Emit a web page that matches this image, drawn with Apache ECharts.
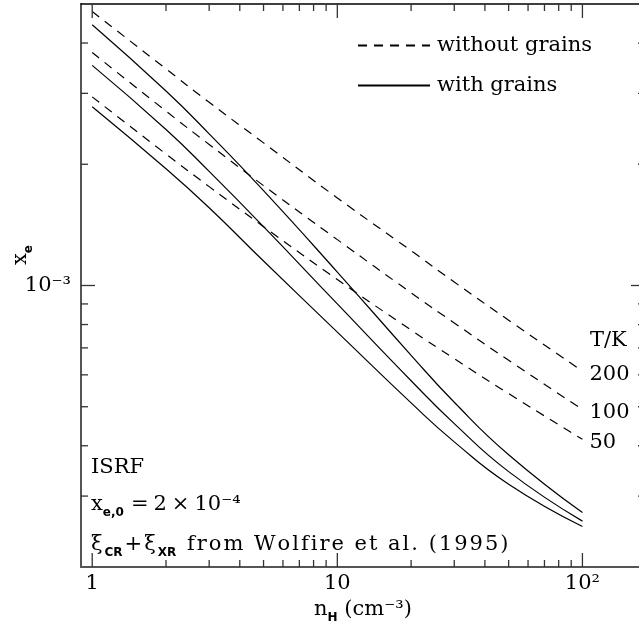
<!DOCTYPE html>
<html><head><meta charset="utf-8">
<script src="https://cdn.jsdelivr.net/npm/echarts@6/dist/echarts.min.js"></script>
<style>html,body{margin:0;padding:0;background:#fff;overflow:hidden}#c{width:639px;height:628px}</style>
</head><body><div id="c"></div>
<script>
// ---- data ----
const nH = [1, 2, 3, 5, 10, 20, 30, 50, 100];
// without grains (dashed)
const noGrainsT200 = [4.79e-3, 3.45e-3, 2.85e-3, 2.26e-3, 1.65e-3, 1.22e-3, 1.02e-3, 8.20e-4, 6.13e-4];
const noGrainsT100 = [3.79e-3, 2.71e-3, 2.24e-3, 1.77e-3, 1.30e-3, 9.59e-4, 8.07e-4, 6.52e-4, 4.92e-4];
const noGrainsT50  = [2.94e-3, 2.12e-3, 1.76e-3, 1.40e-3, 1.035e-3, 7.75e-4, 6.58e-4, 5.39e-4, 4.15e-4];
// with grains (solid)
const grainsT200 = [4.44e-3, 3.04e-3, 2.38e-3, 1.72e-3, 1.08e-3, 6.71e-4, 5.13e-4, 3.80e-4, 2.73e-4];
const grainsT100 = [3.52e-3, 2.44e-3, 1.92e-3, 1.40e-3, 9.00e-4, 5.80e-4, 4.54e-4, 3.45e-4, 2.60e-4];
const grainsT50  = [2.78e-3, 1.95e-3, 1.56e-3, 1.15e-3, 7.66e-4, 5.11e-4, 4.09e-4, 3.21e-4, 2.52e-4];
const tempLabels = ['200', '100', '50'];
// ticks
const xMajorTicks = [1, 10, 100];
const xTickLabels = ['1', '10', '10²'];
const xMinorTicks = [2, 3, 4, 5, 6, 7, 8, 9, 20, 30, 40, 50, 60, 70, 80, 90];
const yMajorTicks = [1e-3];
const yTickLabels = ['10⁻³'];
const yMinorTicks = [3e-4, 4e-4, 5e-4, 6e-4, 7e-4, 8e-4, 9e-4, 2e-3, 3e-3, 4e-3];
const X_MIN = 0.9, X_MAX = 180, Y_MIN = 2e-4, Y_MAX = 5e-3;

// ---- styling ----
const SERIF = 'DejaVu Serif';
const SUBFONT = 'DejaVu Sans';
const FS = 21;
const TICK_COLOR = '#333';
const richBase = {
  b: { fontFamily: SERIF, fontSize: FS, lineHeight: 28, fill: '#000', color: '#000' },
  b2: { fontFamily: SERIF, fontSize: FS, lineHeight: 28, fill: '#000', color: '#000', padding: [0, 2, 0, 0] },
  bp: { fontFamily: SERIF, fontSize: FS, lineHeight: 28, fill: '#000', color: '#000', padding: [0, 5, 0, 5] },
  s: { fontFamily: SUBFONT, fontWeight: 'bold', fontSize: 12, lineHeight: 12, verticalAlign: 'bottom', fill: '#000', color: '#000' },
  s2: { fontFamily: SUBFONT, fontWeight: 'bold', fontSize: 12, lineHeight: 12, verticalAlign: 'bottom', fill: '#000', color: '#000', padding: [0, 2, 0, 0] }
};
// split a string into per-character rich tokens (mimics the wider letter spacing of the original font)
function spaced(str, style) {
  return Array.from(str).map(ch => '{' + style + '|' + ch + '}').join('');
}

function isPow(v, list) {
  const l = Math.log10(v);
  for (let i = 0; i < list.length; i++) {
    if (Math.abs(l - Math.log10(list[i])) < 1e-6) return i;
  }
  return -1;
}

function lineSeries(name, vals, dashed, label) {
  const s = {
    type: 'line', name: name,
    data: nH.map((n, i) => [n, vals[i]]),
    symbol: 'none', showSymbol: false, smooth: 0.5,
    silent: true, animation: false,
    lineStyle: { color: '#000', width: 1.2, type: dashed ? [9, 7] : 'solid' },
    itemStyle: { color: '#000' },
    emphasis: { disabled: true }
  };
  if (label) {
    s.endLabel = { show: true, formatter: label, fontFamily: SERIF, fontSize: FS, color: '#000', distance: 7, offset: [0, 3] };
  }
  return s;
}

function tickSeries(values, axis, len) {
  return {
    type: 'custom', silent: true, animation: false, z: 5, clip: false,
    data: values.map(v => axis === 'x' ? [v, Y_MIN] : [X_MIN, v]),
    renderItem: function (params, api) {
      const style = { stroke: TICK_COLOR, lineWidth: 1.3 };
      if (axis === 'x') {
        const v = api.value(0);
        const b = api.coord([v, Y_MIN]);
        const t = api.coord([v, Y_MAX]);
        return { type: 'group', children: [
          { type: 'line', shape: { x1: b[0], y1: b[1], x2: b[0], y2: b[1] - len }, style: style },
          { type: 'line', shape: { x1: t[0], y1: t[1], x2: t[0], y2: t[1] + len }, style: style }
        ] };
      } else {
        const v = api.value(1);
        const l = api.coord([X_MIN, v]);
        const r = api.coord([X_MAX, v]);
        return { type: 'group', children: [
          { type: 'line', shape: { x1: l[0], y1: l[1], x2: l[0] + len, y2: l[1] }, style: style },
          { type: 'line', shape: { x1: r[0], y1: r[1], x2: r[0] - len, y2: r[1] }, style: style }
        ] };
      }
    }
  };
}

const chart = echarts.init(document.getElementById('c'), null, { renderer: 'canvas' });
const option = {
  animation: false,
  backgroundColor: '#fff',
  grid: { left: 81, top: 4, right: -6, bottom: 61, containLabel: false, outerBoundsMode: 'none' },
  legend: {
    data: ['without grains', 'with grains'],
    orient: 'vertical', left: 357, top: 35, padding: 0,
    itemWidth: 72, itemHeight: 14, itemGap: 19,
    selectedMode: false,
    itemStyle: { opacity: 0 },
    textStyle: { fontFamily: SERIF, fontSize: FS, color: '#000', padding: [0, 0, 0, 2] }
  },
  xAxis: [
    { type: 'log', logBase: 10, min: X_MIN, max: X_MAX,
      name: '{b|n}{s|H}{b| (cm⁻³)}', nameLocation: 'middle', nameGap: 28,
      nameTextStyle: { rich: richBase, fontFamily: SERIF, fontSize: FS, color: '#000' },
      axisLine: { show: true, lineStyle: { color: '#555', width: 2 } },
      axisTick: { show: false }, splitLine: { show: false }, minorTick: { show: false },
      axisLabel: { margin: 6, fontFamily: SERIF, fontSize: FS, color: '#000',
        formatter: v => { const i = isPow(v, xMajorTicks); return i < 0 ? '' : xTickLabels[i]; } } },
    { type: 'log', logBase: 10, min: X_MIN, max: X_MAX, position: 'top',
      axisLine: { show: true, lineStyle: { color: '#000', width: 1.5 } },
      axisTick: { show: false }, splitLine: { show: false }, axisLabel: { show: false } }
  ],
  yAxis: [
    { type: 'log', logBase: 10, min: Y_MIN, max: Y_MAX,
      axisLine: { show: true, lineStyle: { color: '#555', width: 2 } },
      axisTick: { show: false }, splitLine: { show: false }, minorTick: { show: false },
      axisLabel: { margin: 10, fontFamily: SERIF, fontSize: FS, color: '#000',
        formatter: v => { const i = isPow(v, yMajorTicks); return i < 0 ? '' : yTickLabels[i]; } } },
    { type: 'log', logBase: 10, min: Y_MIN, max: Y_MAX, position: 'right',
      axisLine: { show: true, lineStyle: { color: '#000', width: 1.5 } },
      axisTick: { show: false }, splitLine: { show: false }, axisLabel: { show: false } }
  ],
  series: [
    lineSeries('without grains', noGrainsT200, true, tempLabels[0]),
    lineSeries('without grains', noGrainsT100, true, tempLabels[1]),
    lineSeries('without grains', noGrainsT50, true, tempLabels[2]),
    lineSeries('with grains', grainsT200, false),
    lineSeries('with grains', grainsT100, false),
    lineSeries('with grains', grainsT50, false),
    tickSeries(xMajorTicks, 'x', 14),
    tickSeries(xMinorTicks, 'x', 7),
    tickSeries(yMajorTicks, 'y', 14),
    tickSeries(yMinorTicks, 'y', 7)
  ],
  graphic: [
    { type: 'text', x: 590, y: 341, silent: true,
      style: { text: 'T/K', fontFamily: SERIF, fontSize: FS, fill: '#000', align: 'left', verticalAlign: 'middle' } },
    { type: 'text', x: 91, y: 468, silent: true,
      style: { text: 'ISRF', fontFamily: SERIF, fontSize: FS, fill: '#000', align: 'left', verticalAlign: 'middle' } },
    { type: 'text', x: 91, y: 505, silent: true,
      style: { text: '{b|x}{s2|e,0}{bp|=}{b|2}{bp|×}{b|10⁻⁴}', rich: richBase, fontFamily: SERIF, fontSize: FS, fill: '#000', align: 'left', verticalAlign: 'middle' } },
    { type: 'text', x: 91, y: 545, silent: true,
      style: { text: spaced('ξ', 'b2') + '{s2|CR}' + spaced('+ξ', 'b2') + '{s2|XR}' + spaced(' from Wolfire et al. (1995)', 'b2'), rich: richBase, fontFamily: SERIF, fontSize: FS, fill: '#000', align: 'left', verticalAlign: 'middle' } },
    { type: 'text', x: 21, y: 255, rotation: Math.PI / 2, silent: true,
      style: { text: '{b|x}{s|e}', rich: richBase, fontFamily: SERIF, fontSize: FS, fill: '#000', align: 'center', verticalAlign: 'middle' } }
  ]
};
chart.setOption(option);
</script>
</body></html>
